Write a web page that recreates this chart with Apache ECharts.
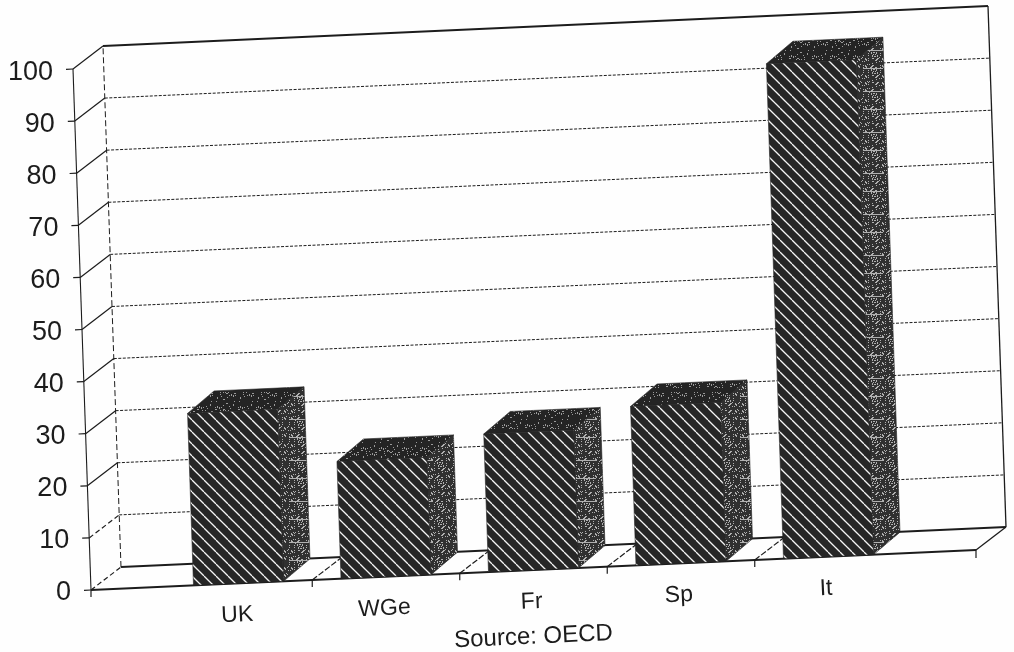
<!DOCTYPE html>
<html>
<head>
<meta charset="utf-8">
<style>html,body{margin:0;padding:0;background:#fefefe}#c{width:1014px;height:652px}</style>
<script src="https://cdn.jsdelivr.net/npm/echarts@6/dist/echarts.min.js"></script>
</head>
<body>
<div id="c"></div>
<script>
// ----- data -----
const categories = ['UK', 'WGe', 'Fr', 'Sp', 'It'];
const values = [33, 22.5, 26.5, 30.5, 95];
const yTicks = [0, 10, 20, 30, 40, 50, 60, 70, 80, 90, 100];
const boundaries = [0, 1, 2, 3];
const sourceNote = 'Source: OECD';

// ----- oblique view of the plot (the page is a tilted scan of a 3D chart) -----
const ORIGIN_X = 91, ORIGIN_Y = 590;
const SLOPE_X = -40 / 885;   // floor rises to the right
const SLOPE_Y = 18 / 521;    // verticals lean to the left
const DEPTH = [30, -23];
const BAR_DEPTH = [26.5, -22.5];
const INK = '#1c1c1c';
const FONT = '"Liberation Sans", sans-serif';

function project(p) {
  return [p[0] + SLOPE_Y * (p[1] - ORIGIN_Y), p[1] + SLOPE_X * (p[0] - ORIGIN_X)];
}
function back(p) { return [p[0] + DEPTH[0], p[1] + DEPTH[1]]; }
function barBack(p) { return [p[0] + BAR_DEPTH[0], p[1] + BAR_DEPTH[1]]; }

// ----- fills -----
function tile(size, paint) {
  const c = document.createElement('canvas');
  c.width = c.height = size;
  paint(c.getContext('2d'), size);
  return { image: c, repeat: 'repeat' };
}
const hatch = tile(12, (g, s) => {
  g.fillStyle = '#262626'; g.fillRect(0, 0, s, s);
  g.strokeStyle = '#f4f4f4'; g.lineWidth = 1.3;
  [-s, 0, s].forEach(o => { g.beginPath(); g.moveTo(o, 0); g.lineTo(o + s, s); g.stroke(); });
});
function speckle(base, light, every, keep, dashes) {
  return tile(41, (g, s) => {
    g.fillStyle = base; g.fillRect(0, 0, s, s);
    g.fillStyle = light;
    for (let y = 0; y < s; y++) for (let x = 0; x < s; x++) {
      if ((x * x * 3 + y * y * 5 + x * y * 7 + x) % every < keep) g.fillRect(x, y, 1, 1);
    }
    dashes.forEach(y => g.fillRect(2, y, 20, 1));
  });
}
const sideFill = speckle('#303030', '#b0b0b0', 17, 3, [9, 27]);
const topFill = speckle('#242424', '#9a9a9a', 23, 2, []);

function line(a, b, width, dash) {
  return {
    type: 'line', silent: true,
    shape: { x1: a[0], y1: a[1], x2: b[0], y2: b[1] },
    style: { stroke: INK, lineWidth: width, lineDash: dash || null, fill: null }
  };
}
function poly(points, fill) {
  return {
    type: 'polygon', silent: true,
    shape: { points: points },
    style: { fill: fill, stroke: '#222', lineWidth: 0.6 }
  };
}

// wall: one gridline, side rung and tick per y tick; frame edges added at 0
function renderWall(params, api) {
  const v = api.value(1);
  const base = api.coord([0, v]);
  const band = api.size([1, 0])[0];
  const left = base[0] - band, right = base[0] + band * 5;
  const a = project([left, base[1]]);
  const b = project([right, base[1]]);
  const edge = v === 0 || v === 100;
  const kids = [
    line(back(a), back(b), edge ? 1.8 : 1, edge ? null : [3, 1.5]),
    line(a, back(a), 1.2, v === 0 || v === 10 ? [5, 3] : null),
    line([a[0] - 7, a[1] + 0.3], a, 1.2)
  ];
  if (v === 0) {
    const top = api.coord([0, 100]);
    const at = project([left, top[1]]), bt = project([right, top[1]]);
    kids.push(line(a, at, 1.1));
    kids.push(line(back(a), back(at), 1, [6, 3]));
    kids.push(line(back(b), back(bt), 1.3));
    kids.push(line(a, b, 2));
    kids.push(line(b, back(b), 1.3));
    kids.push(line(b, [b[0], b[1] + 8], 1.2));
    kids.push(line([a[0], a[1]], [a[0], a[1] + 7], 1.2));
  }
  return { type: 'group', children: kids };
}

// floor: rung and tick at the edge between two categories
function renderFloor(params, api) {
  const base = api.coord([api.value(0), 0]);
  const band = api.size([1, 0])[0];
  const a = project([base[0] + band / 2, base[1]]);
  return {
    type: 'group',
    children: [line(a, back(a), 1.2, [6, 2]), line(a, [a[0], a[1] + 7], 1.2)]
  };
}

// bar: front, side and top faces
function renderBar(params, api) {
  const i = api.value(0), v = api.value(1);
  const foot = api.coord([i, 0]), head = api.coord([i, v]);
  const w = api.size([1, 0])[0] * 0.61 / 2;
  const fl = project([foot[0] - w, foot[1]]), fr = project([foot[0] + w, foot[1]]);
  const tl = project([foot[0] - w, head[1]]), tr = project([foot[0] + w, head[1]]);
  return {
    type: 'group',
    children: [
      poly([tr, barBack(tr), barBack(fr), fr], sideFill),
      poly([tl, barBack(tl), barBack(tr), tr], topFill),
      poly([tl, tr, fr, fl], hatch)
    ]
  };
}

const band = 147.5, gridLeft = 164.75;
const labelRich = {};
yTicks.forEach(v => {
  labelRich['r' + v] = {
    fontFamily: FONT, fontSize: 27, color: INK,
    padding: [0, 18 * v / 100, 0, 0]
  };
});
const dropAt = i => -SLOPE_X * (gridLeft + band * (i + 0.5) - ORIGIN_X);
const maxDrop = dropAt(categories.length - 1);
const catRich = { t: { fontFamily: FONT, fontSize: 23, color: INK, padding: [0, 6, 0, 0] } };
categories.forEach((c, i) => {
  catRich['s' + i] = { fontSize: 1, height: maxDrop - dropAt(i) + 1, lineHeight: maxDrop - dropAt(i) + 1 };
});

const chart = echarts.init(document.getElementById('c'), null, { renderer: 'canvas' });
chart.setOption({
  animation: false,
  backgroundColor: '#fefefe',
  grid: [
    { left: gridLeft, top: 69, width: band * 5, height: 521, containLabel: false, outerBoundsMode: 'none' },
    // the printed tick labels sit a little below their ticks
    { left: gridLeft, top: 73, width: band * 5, height: 520, containLabel: false, outerBoundsMode: 'none' }
  ],
  xAxis: [{
    type: 'category',
    data: categories,
    boundaryGap: true,
    axisLine: { show: false },
    axisTick: { show: false },
    axisLabel: {
      interval: 0, rotate: 2.6, margin: -14, align: 'center', verticalAlign: 'top',
      formatter: (c, i) => '{s' + i + '| }\n{t|' + c + '}',
      rich: catRich
    },
    name: sourceNote,
    nameLocation: 'middle',
    nameGap: 47,
    nameMoveOverlap: false,
    nameRotate: 2.6,
    nameTextStyle: { fontFamily: FONT, fontSize: 24, color: INK, align: 'center', verticalAlign: 'middle' }
  }, {
    type: 'category', gridIndex: 1, data: categories, show: false
  }],
  yAxis: [{
    type: 'value', min: 0, max: 100, interval: 10,
    axisLine: { show: false },
    axisTick: { show: false },
    splitLine: { show: false },
    axisLabel: { show: false }
  }, {
    type: 'value', gridIndex: 1, min: 0, max: 100, interval: 10,
    offset: band / 2,
    axisLine: { show: false },
    axisTick: { show: false },
    splitLine: { show: false },
    axisLabel: {
      margin: 20,
      formatter: v => '{r' + v + '|' + v + '}',
      rich: labelRich
    }
  }],
  series: [
    { type: 'custom', coordinateSystem: 'cartesian2d', silent: true, clip: false,
      renderItem: renderWall, data: yTicks.map(v => [0, v]), encode: { x: 0, y: 1 }, z: 1 },
    { type: 'custom', coordinateSystem: 'cartesian2d', silent: true, clip: false,
      renderItem: renderFloor, data: boundaries.map(i => [i, 0]), encode: { x: 0, y: 1 }, z: 2 },
    { type: 'custom', coordinateSystem: 'cartesian2d', silent: true, clip: false,
      renderItem: renderBar, data: values.map((v, i) => [i, v]), encode: { x: 0, y: 1 }, z: 3 }
  ]
});
</script>
</body>
</html>
